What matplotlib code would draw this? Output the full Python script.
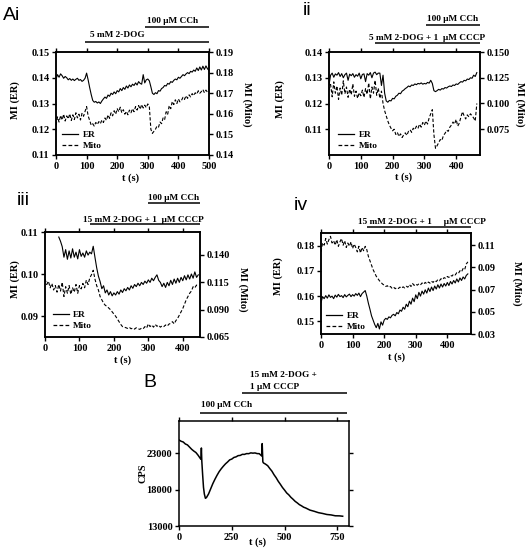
import matplotlib
matplotlib.use('Agg')
import matplotlib.pyplot as plt
import matplotlib.transforms as mtransforms
from matplotlib.lines import Line2D
import numpy as np

SERIF = 'Liberation Serif'
SANS = 'Liberation Sans'
plt.rcParams['font.family'] = SERIF
plt.rcParams['font.weight'] = 'bold'

# ---------------- data ----------------
# Panel Ai (t = 0..500 s, 5 s step)
t_ai = np.arange(0, 505, 5)
er_ai = [0.1395, 0.1412, 0.1402, 0.1415, 0.1408, 0.1398, 0.1405, 0.1400, 0.1392, 0.1397,
         0.1390, 0.1395, 0.1389, 0.1394, 0.1398, 0.1390, 0.1393, 0.1386, 0.1390, 0.1398,
         0.1418, 0.1392, 0.1362, 0.1335, 0.1312, 0.1305, 0.1308, 0.1302, 0.1306, 0.1300,
         0.1310, 0.1318, 0.1325, 0.1320, 0.1333, 0.1328, 0.1340, 0.1335, 0.1345, 0.1338,
         0.1350, 0.1345, 0.1358, 0.1350, 0.1362, 0.1355, 0.1368, 0.1360, 0.1372, 0.1365,
         0.1375, 0.1370, 0.1380, 0.1372, 0.1385, 0.1378, 0.1375, 0.1412, 0.1380, 0.1392,
         0.1395, 0.1388, 0.1365, 0.1340, 0.1335, 0.1342, 0.1338, 0.1350, 0.1348, 0.1358,
         0.1362, 0.1370, 0.1368, 0.1378, 0.1375, 0.1385, 0.1382, 0.1390, 0.1395, 0.1392,
         0.1402, 0.1398, 0.1405, 0.1412, 0.1408, 0.1415, 0.1420, 0.1416, 0.1425, 0.1422,
         0.1430, 0.1425, 0.1438, 0.1428, 0.1442, 0.1430, 0.1445, 0.1432, 0.1446, 0.1435,
         0.1428]
mito_ai = [0.1545, 0.1585, 0.1560, 0.1592, 0.1570, 0.1598, 0.1565, 0.1590, 0.1575, 0.1600,
           0.1568, 0.1595, 0.1572, 0.1605, 0.1580, 0.1598, 0.1570, 0.1602, 0.1588, 0.1612,
           0.1635, 0.1590, 0.1568, 0.1545, 0.1552, 0.1540, 0.1558, 0.1548, 0.1562, 0.1552,
           0.1570, 0.1558, 0.1580, 0.1568, 0.1595, 0.1578, 0.1605, 0.1590, 0.1615, 0.1598,
           0.1625, 0.1610, 0.1632, 0.1605, 0.1620, 0.1598, 0.1612, 0.1595, 0.1618, 0.1605,
           0.1625, 0.1610, 0.1635, 0.1618, 0.1640, 0.1622, 0.1645, 0.1628, 0.1642, 0.1630,
           0.1648, 0.1635, 0.1525, 0.1505, 0.1515, 0.1525, 0.1540, 0.1535, 0.1560, 0.1552,
           0.1580, 0.1572, 0.1610, 0.1598, 0.1640, 0.1625, 0.1660, 0.1645, 0.1668, 0.1650,
           0.1672, 0.1658, 0.1665, 0.1680, 0.1670, 0.1688, 0.1675, 0.1692, 0.1682, 0.1698,
           0.1688, 0.1702, 0.1695, 0.1712, 0.1700, 0.1708, 0.1718, 0.1702, 0.1715, 0.1705,
           0.1712]

# Panel ii (t = 0..465 s)
t_ii = np.arange(0, 470, 5)
er_ii = [0.1272, 0.1310, 0.1318, 0.1302, 0.1315, 0.1310, 0.1320, 0.1305, 0.1316, 0.1300,
         0.1312, 0.1318, 0.1290, 0.1314, 0.1308, 0.1316, 0.1302, 0.1312, 0.1306, 0.1318,
         0.1296, 0.1313, 0.1315, 0.1285, 0.1316, 0.1310, 0.1320, 0.1300, 0.1318, 0.1322,
         0.1312, 0.1318, 0.1318, 0.1270, 0.1310, 0.1240, 0.1210, 0.1205, 0.1212, 0.1210,
         0.1220, 0.1218, 0.1228, 0.1232, 0.1240, 0.1238, 0.1248, 0.1252, 0.1258, 0.1262,
         0.1268, 0.1265, 0.1272, 0.1270, 0.1276, 0.1273, 0.1278, 0.1276, 0.1280, 0.1275,
         0.1278, 0.1276, 0.1282, 0.1279, 0.1290, 0.1278, 0.1250, 0.1246, 0.1250, 0.1255,
         0.1252, 0.1258, 0.1256, 0.1262, 0.1260, 0.1265, 0.1268, 0.1266, 0.1272, 0.1270,
         0.1276, 0.1274, 0.1280, 0.1285, 0.1283, 0.1290, 0.1288, 0.1295, 0.1293, 0.1300,
         0.1298, 0.1310, 0.1305, 0.1320]
mito_ii = [0.1130, 0.1185, 0.1065, 0.1210, 0.1100, 0.1170, 0.1040, 0.1150, 0.1080, 0.1220,
           0.1095, 0.1160, 0.1060, 0.1140, 0.1085, 0.1190, 0.1070, 0.1120, 0.1050, 0.1105,
           0.1075, 0.1130, 0.1060, 0.1145, 0.1090, 0.1200, 0.1045, 0.1160, 0.1100, 0.1225,
           0.1080, 0.1150, 0.1050, 0.1120, 0.1000, 0.0930, 0.0880, 0.0830, 0.0790, 0.0760,
           0.0735, 0.0750, 0.0700, 0.0720, 0.0680, 0.0705, 0.0670, 0.0695, 0.0715, 0.0690,
           0.0730, 0.0745, 0.0720, 0.0760, 0.0745, 0.0780, 0.0760, 0.0800, 0.0770, 0.0815,
           0.0790, 0.0830, 0.0800, 0.0860, 0.0900, 0.0940, 0.0700, 0.0565, 0.0590, 0.0620,
           0.0650, 0.0640, 0.0690, 0.0710, 0.0740, 0.0730, 0.0770, 0.0790, 0.0820, 0.0800,
           0.0845, 0.0780, 0.0810, 0.0870, 0.0920, 0.0880, 0.0850, 0.0890, 0.0870, 0.0900,
           0.0880, 0.0860, 0.0830, 0.1000]

# Panel iii
t_er_iii = np.arange(40, 450, 5)
er_iii = [0.1088, 0.1078, 0.1065, 0.1040, 0.1058, 0.1035, 0.1055, 0.1038, 0.1060, 0.1040,
          0.1052, 0.1036, 0.1058, 0.1042, 0.1050, 0.1040, 0.1055, 0.1045, 0.1052, 0.1048,
          0.1066, 0.1040, 0.1015, 0.0995, 0.0982, 0.0965, 0.0972, 0.0955, 0.0962, 0.0950,
          0.0958, 0.0948, 0.0955, 0.0950, 0.0958, 0.0952, 0.0962, 0.0956, 0.0965, 0.0960,
          0.0968, 0.0962, 0.0972, 0.0966, 0.0975, 0.0970, 0.0978, 0.0972, 0.0980, 0.0975,
          0.0983, 0.0978, 0.0986, 0.0980, 0.0990, 0.0984, 0.0992, 0.0998, 0.0985, 0.0980,
          0.0970, 0.0978, 0.0968, 0.0980, 0.0972, 0.0985, 0.0975, 0.0988, 0.0978, 0.0990,
          0.0980, 0.0992, 0.0984, 0.0996, 0.0986, 0.0998, 0.0988, 0.1000, 0.0990, 0.1005,
          0.0992, 0.0998]
t_mi_iii = np.arange(0, 450, 5)
mito_iii = [0.1180, 0.1130, 0.1160, 0.1100, 0.1140, 0.1080, 0.1120, 0.1060, 0.1130, 0.1070,
            0.1150, 0.1020, 0.1110, 0.1050, 0.1120, 0.1040, 0.1100, 0.1060, 0.1130, 0.1050,
            0.1120, 0.1090, 0.1140, 0.1100, 0.1170, 0.1130, 0.1190, 0.1220, 0.1260, 0.1180,
            0.1120, 0.1080, 0.1020, 0.0990, 0.0960, 0.0940, 0.0930, 0.0915, 0.0900, 0.0880,
            0.0860, 0.0840, 0.0815, 0.0790, 0.0765, 0.0745, 0.0740, 0.0735, 0.0728, 0.0738,
            0.0725, 0.0732, 0.0722, 0.0735, 0.0726, 0.0720, 0.0730, 0.0725, 0.0745, 0.0732,
            0.0770, 0.0745, 0.0760, 0.0740, 0.0765, 0.0748, 0.0758, 0.0740, 0.0752, 0.0745,
            0.0760, 0.0750, 0.0768, 0.0775, 0.0790, 0.0770, 0.0800, 0.0820, 0.0850, 0.0880,
            0.0910, 0.0950, 0.0990, 0.1020, 0.1050, 0.1070, 0.1110, 0.1100, 0.1125, 0.1110]

# Panel iv (t = 0..465 s)
t_iv = np.arange(0, 470, 5)
er_iv = [0.1575, 0.1598, 0.1590, 0.1602, 0.1592, 0.1605, 0.1595, 0.1600, 0.1590, 0.1604,
         0.1596, 0.1607, 0.1598, 0.1602, 0.1594, 0.1606, 0.1597, 0.1603, 0.1608, 0.1598,
         0.1606, 0.1600, 0.1610, 0.1603, 0.1612, 0.1598, 0.1610, 0.1616, 0.1622, 0.1600,
         0.1572, 0.1548, 0.1522, 0.1505, 0.1488, 0.1475, 0.1492, 0.1470, 0.1498, 0.1485,
         0.1505, 0.1512, 0.1508, 0.1518, 0.1514, 0.1524, 0.1528, 0.1522, 0.1535, 0.1530,
         0.1545, 0.1540, 0.1556, 0.1548, 0.1568, 0.1558, 0.1580, 0.1568, 0.1592, 0.1578,
         0.1605, 0.1590, 0.1615, 0.1600, 0.1620, 0.1608, 0.1625, 0.1612, 0.1632, 0.1618,
         0.1636, 0.1622, 0.1640, 0.1628, 0.1645, 0.1632, 0.1648, 0.1636, 0.1650, 0.1640,
         0.1654, 0.1642, 0.1658, 0.1648, 0.1662, 0.1652, 0.1668, 0.1656, 0.1672, 0.1662,
         0.1676, 0.1668, 0.1682, 0.1688]
mito_iv = [0.1040, 0.1120, 0.1100, 0.1160, 0.1110, 0.1150, 0.1180, 0.1120, 0.1140, 0.1100,
           0.1150, 0.1090, 0.1130, 0.1160, 0.1100, 0.1140, 0.1080, 0.1120, 0.1090, 0.1130,
           0.1070, 0.1110, 0.1080, 0.1040, 0.1090, 0.1030, 0.1080, 0.1050, 0.1090, 0.1060,
           0.1000, 0.0960, 0.0920, 0.0880, 0.0850, 0.0820, 0.0800, 0.0780, 0.0765, 0.0750,
           0.0740, 0.0728, 0.0735, 0.0720, 0.0728, 0.0712, 0.0722, 0.0708, 0.0718, 0.0710,
           0.0722, 0.0712, 0.0725, 0.0715, 0.0730, 0.0722, 0.0745, 0.0728, 0.0755, 0.0738,
           0.0750, 0.0740, 0.0752, 0.0742, 0.0760, 0.0748, 0.0765, 0.0752, 0.0768, 0.0758,
           0.0775, 0.0765, 0.0782, 0.0772, 0.0790, 0.0780, 0.0798, 0.0790, 0.0808, 0.0800,
           0.0818, 0.0810, 0.0828, 0.0822, 0.0840, 0.0832, 0.0852, 0.0845, 0.0870, 0.0860,
           0.0890, 0.0880, 0.0930, 0.0950]

# Panel B
t_b = [0, 10, 20, 30, 40, 50, 60, 70, 80, 90, 100, 104, 106, 108, 112, 116, 120, 125, 130,
       140, 150, 160, 170, 180, 190, 200, 210, 220, 230, 240, 250, 260, 270, 280, 290, 300,
       310, 320, 330, 340, 350, 360, 370, 380, 388, 392, 394, 397, 400, 410, 420, 430, 440,
       450, 460, 470, 480, 490, 500, 510, 520, 530, 540, 550, 560, 570, 580, 590, 600, 620,
       640, 660, 680, 700, 720, 740, 760, 775]
cps_b = [24800, 24620, 24520, 24250, 24120, 23820, 23520, 23280, 23080, 22720, 22300, 22150,
         23700, 21900, 20000, 18300, 17400, 16800, 16900, 17400, 18100, 18800, 19400, 19950,
         20450, 20850, 21200, 21520, 21780, 22070, 22180, 22400, 22480, 22650, 22680, 22830,
         22820, 22930, 22920, 23030, 22990, 23020, 22930, 22920, 22700, 22600, 24300, 21800,
         21650, 21480, 21270, 20880, 20520, 20030, 19620, 19130, 18720, 18280, 17920, 17530,
         17270, 16930, 16670, 16380, 16170, 15930, 15770, 15580, 15470, 15180, 15020, 14830,
         14720, 14580, 14520, 14400, 14390, 14340]

# ---------------- figure ----------------
W, H = 529, 556
fig = plt.figure(figsize=(W / 100, H / 100), dpi=100)


def rect(x0, x1, y0, y1):
    return [x0 / W, 1 - y1 / H, (x1 - x0) / W, (y1 - y0) / H]


TICK = dict(direction='out', length=3.2, width=1.0, labelsize=7.5, pad=1.5)
DASH = (0, (3.0, 1.8))


def style_ax(ax):
    for s in ax.spines.values():
        s.set_linewidth(1.1)
    ax.tick_params(**TICK)
    for lab in ax.get_xticklabels() + ax.get_yticklabels():
        lab.set_fontfamily(SERIF)
        lab.set_fontweight('bold')


def ftext(x, y, s, **kw):
    kw.setdefault('fontsize', 7.5)
    kw.setdefault('fontweight', 'bold')
    kw.setdefault('family', SERIF)
    fig.text(x / W, 1 - y / H, s, **kw)


def treat(ax, text, tx, ty, x0, x1, ly, ha='left'):
    tr = mtransforms.blended_transform_factory(ax.transData, ax.transAxes)
    if text:
        ax.text(tx, ty, text, transform=tr, fontsize=6.7, fontweight='bold',
                family=SERIF, ha=ha, va='center', clip_on=False)
    if x0 is not None:
        ax.plot([x0, x1], [ly, ly], transform=tr, color='black', lw=1.1,
                clip_on=False, solid_capstyle='butt')


def panel(r, t_er, er, t_mi, mi, xlim, xticks, yl, ylt, ylfmt, yr, yrt, yrfmt, leg):
    ax = fig.add_axes(r)
    ax.plot(t_er, er, color='black', lw=0.8)
    ax.set_xlim(*xlim)
    ax.set_ylim(*yl)
    ax.set_xticks(xticks)
    ax.set_xticklabels([str(v) for v in xticks])
    ax.set_yticks(ylt)
    ax.set_yticklabels([ylfmt.format(v) for v in ylt])
    ax.tick_params(axis='x', top=True, labeltop=False)
    ax2 = ax.twinx()
    ax2.plot(t_mi, mi, color='black', lw=0.8, ls=DASH)
    ax2.set_ylim(*yr)
    ax2.set_yticks(yrt)
    ax2.set_yticklabels([yrfmt.format(v) for v in yrt])
    style_ax(ax)
    style_ax(ax2)
    handles = [Line2D([], [], color='black', lw=0.9),
               Line2D([], [], color='black', lw=0.9, ls=DASH)]
    ax2.legend(handles, ['ER', 'Mito'], loc='lower left', bbox_to_anchor=leg,
               frameon=False, handlelength=1.7, handletextpad=0.5, labelspacing=0.25,
               borderpad=0, borderaxespad=0,
               prop={'family': SERIF, 'weight': 'bold', 'size': 6.7})
    return ax, ax2


# Ai
ax, _ = panel(rect(56, 209, 52, 155), t_ai, er_ai, t_ai, mito_ai, (0, 500),
              [0, 100, 200, 300, 400, 500], (0.11, 0.15),
              [0.11, 0.12, 0.13, 0.14, 0.15], '{:.2f}', (0.14, 0.19),
              [0.14, 0.15, 0.16, 0.17, 0.18, 0.19], '{:.2f}', (0.04, 0.05))
treat(ax, '5 mM 2-DOG', 111, 1.165, 95, 500, 1.097)
treat(ax, '100 μM CCh', 297, 1.30, 292, 500, 1.243)
ftext(15, 100, 'MI (ER)', rotation=90, ha='center', va='center')
ftext(247, 104, 'MI (Mito)', rotation=270, ha='center', va='center')
ftext(131, 178, 't (s)', ha='center', va='center')

# ii
ax, _ = panel(rect(329, 480, 52, 155), t_ii, er_ii, t_ii, mito_ii, (0, 475),
              [0, 100, 200, 300, 400], (0.10, 0.14),
              [0.11, 0.12, 0.13, 0.14], '{:.2f}', (0.05, 0.15),
              [0.075, 0.100, 0.125, 0.150], '{:.3f}', (0.06, 0.05))
treat(ax, '5 mM 2-DOG + 1  μM CCCP', 127, 1.136, 146, 475, 1.087)
treat(ax, '100 μM CCh', 308, 1.32, 306, 475, 1.262)
ftext(280, 99, 'MI (ER)', rotation=90, ha='center', va='center')
ftext(520, 104, 'MI (Mito)', rotation=270, ha='center', va='center')
ftext(404, 177, 't (s)', ha='center', va='center')

# iii
ax, _ = panel(rect(45, 200, 232, 337), t_er_iii, er_iii, t_mi_iii, mito_iii, (0, 450),
              [0, 100, 200, 300, 400], (0.085, 0.11),
              [0.09, 0.10, 0.11], '{:.2f}', (0.065, 0.161),
              [0.065, 0.090, 0.115, 0.140], '{:.3f}', (0.05, 0.067))
treat(ax, '15 mM 2-DOG + 1  μM CCCP', 110, 1.114, 130, 450, 1.076)
treat(ax, '100 μM CCh', 298, 1.324, 298, 450, 1.276)
ftext(15, 279, 'MI (ER)', rotation=90, ha='center', va='center')
ftext(243, 289, 'MI (Mito)', rotation=270, ha='center', va='center')
ftext(123, 360, 't (s)', ha='center', va='center')

# iv
ax, _ = panel(rect(321, 471, 233, 334), t_iv, er_iv, t_iv, mito_iv, (0, 475),
              [0, 100, 200, 300, 400], (0.145, 0.185),
              [0.15, 0.16, 0.17, 0.18], '{:.2f}', (0.03, 0.121),
              [0.03, 0.05, 0.07, 0.09, 0.11], '{:.2f}', (0.033, 0.03))
treat(ax, '15 mM 2-DOG + 1     μM CCCP', 117, 1.109, 146, 475, 1.059)
ftext(278, 276, 'MI (ER)', rotation=90, ha='center', va='center')
ftext(517, 283, 'MI (Mito)', rotation=270, ha='center', va='center')
ftext(397, 357, 't (s)', ha='center', va='center')

# B
axb = fig.add_axes(rect(179, 349, 421, 526))
axb.plot(t_b, cps_b, color='black', lw=1.1)
axb.set_xlim(0, 805)
axb.set_ylim(13000, 27400)
axb.set_xticks([0, 250, 500, 750])
axb.set_xticklabels(['0', '250', '500', '750'])
axb.set_yticks([13000, 18000, 23000])
axb.set_yticklabels(['13000', '18000', '23000'])
axb.tick_params(axis='x', top=True, labeltop=False)
axb.tick_params(axis='y', right=True, labelright=False)
style_ax(axb)
treat(axb, '15 mM 2-DOG +', 338, 1.438, None, None, None)
treat(axb, '1 μM CCCP', 338, 1.324, 300, 795, 1.267)
treat(axb, '100 μM CCh', 105, 1.152, 100, 795, 1.076)
ftext(143, 473, 'CPS', rotation=90, ha='center', va='center')
ftext(258, 542, 't (s)', ha='center', va='center')

# panel labels
for s, x, y in [('Ai', 3, 20), ('ii', 303, 15), ('iii', 17, 205), ('iv', 294, 210), ('B', 143, 387)]:
    fig.text(x / W, 1 - y / H, s, fontsize=14, family=SANS, fontweight='normal',
             ha='left', va='baseline')

fig.savefig('out.png', dpi=100)
